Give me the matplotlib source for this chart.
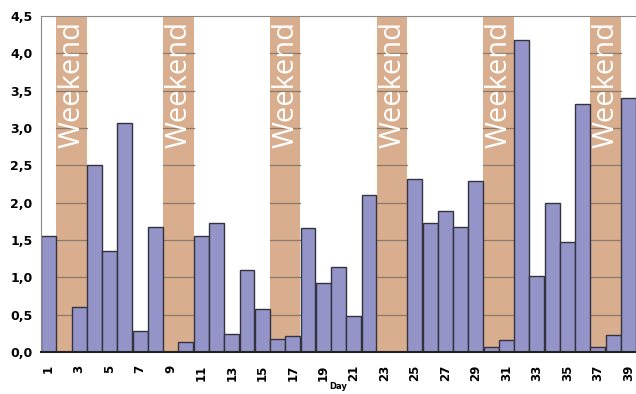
import numpy as np
import matplotlib.pyplot as plt
from matplotlib.ticker import FuncFormatter

days = list(range(1, 40))
values = [1.56, 0.0, 0.60, 2.51, 1.35, 3.07, 0.28, 1.68, 0.0, 0.14,
          1.55, 1.73, 0.24, 1.10, 0.58, 0.18, 0.21, 1.66, 0.93, 1.14,
          0.48, 2.10, 0.0, 0.0, 2.32, 1.73, 1.89, 1.68, 2.29, 0.07,
          0.16, 4.18, 1.02, 1.99, 1.48, 3.32, 0.07, 0.23, 3.41]
weekends = [(2, 3), (9, 10), (16, 17), (23, 24), (30, 31), (37, 38)]

fig = plt.figure(figsize=(6.36, 3.94), dpi=100)
ax = fig.add_axes([0.0645, 0.1066, 0.9355, 0.8524])

tan = '#d8ae8e'
for a, b in weekends:
    ax.axvspan(a - 0.5, b + 0.5, color=tan, zorder=0, lw=0)
    for y in np.arange(0.5, 4.5, 0.5):
        ax.plot([a - 0.5, b + 0.5], [y, y], color='#8c7a6c', lw=0.9, zorder=1)
    ax.text((a + b) / 2 + 0.05, 4.43, 'Weekend', rotation=90, color='white',
            ha='center', va='top', fontsize=21, family='Open Sans', zorder=1)

ax.bar(days, values, width=0.98, color='#9494c8', edgecolor='#333340',
       linewidth=1.0, zorder=2)

ax.set_xlim(0.5, 39.5)
ax.set_ylim(0, 4.5)
ax.set_yticks(np.arange(0, 4.51, 0.5))
ax.yaxis.set_major_formatter(FuncFormatter(lambda v, p: f'{v:.1f}'.replace('.', ',')))
ax.set_xticks(days[::2])
ax.set_xticklabels([str(d) for d in days[::2]], rotation=90, fontweight='bold',
                   fontsize=8.5, family='DejaVu Sans')
for t in ax.get_yticklabels():
    t.set_fontweight('bold')
    t.set_fontsize(9)
ax.tick_params(axis='y', length=0, pad=6)
ax.tick_params(axis='x', length=0, pad=9)
ax.set_xlabel('Day', fontsize=6, fontweight='bold', labelpad=1)

ax.spines['right'].set_visible(False)
ax.spines['top'].set_color('#888888')
ax.spines['left'].set_color('#888888')
ax.spines['bottom'].set_color('#222222')
ax.spines['bottom'].set_linewidth(1.5)
ax.spines['bottom'].set_zorder(3)

fig.savefig('out.png', dpi=100)
